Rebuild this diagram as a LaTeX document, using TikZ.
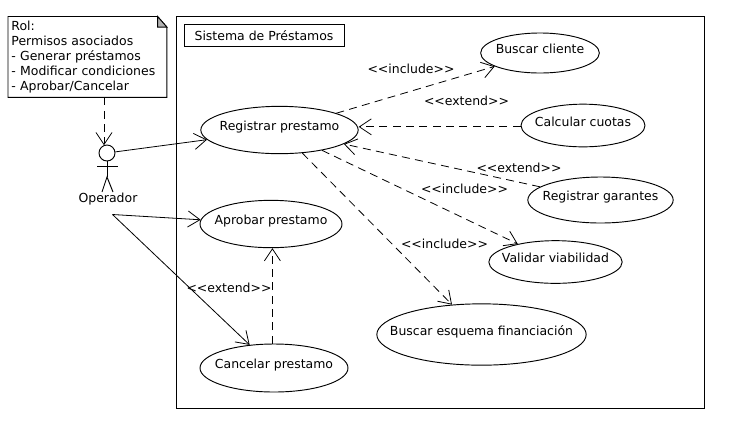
\documentclass[tikz,border=0pt]{standalone}
\usepackage{fontspec}
\setmainfont{DejaVu Sans}
\usetikzlibrary{arrows.meta}
\usetikzlibrary{shapes.geometric}
\tikzset{
  caso/.style={draw,ellipse,inner sep=0pt,text height=7pt,text depth=6pt,font=\fontsize{9.35}{11.25}\selectfont,
    execute at begin node={\hbox to 0pt\bgroup\hss},execute at end node={\hss\egroup}},
  etiqueta/.style={font=\fontsize{9.35}{11.25}\selectfont},
  flecha/.style={-{Straight Barb[length=9pt,width=12pt,line width=.6pt]},line width=.6pt},
  punteada/.style={flecha,dash pattern=on 6pt off 4pt}
}
\begin{document}
\begin{tikzpicture}[x=.75pt,y=-.75pt,line width=.7pt]
  \useasboundingbox (0,0) rectangle (734,430);
  \draw (176.5,16) rectangle (704,408);
  \node[draw,etiqueta,minimum width=120pt,minimum height=17pt,inner sep=0pt] (titulo) at (264,35.5) {Sistema de Préstamos};

  \node[caso,minimum width=118pt,minimum height=35.5pt] (registrar) at (279.5,130) {Registrar prestamo};
  \node[caso,minimum width=89pt,minimum height=30pt] (cliente) at (540,53) {Buscar cliente};
  \node[caso,minimum width=93pt,minimum height=32pt] (cuotas) at (583,125.5) {Calcular cuotas};
  \node[caso,minimum width=109pt,minimum height=34.5pt] (garantes) at (600.5,200) {Registrar garantes};
  \node[caso,minimum width=100pt,minimum height=32pt] (viabilidad) at (555.5,262) {Validar viabilidad};
  \node[caso,minimum width=106.5pt,minimum height=35.5pt] (aprobar) at (271,224) {Aprobar prestamo};
  \node[caso,minimum width=111pt,minimum height=36pt] (cancelar) at (274,368) {Cancelar prestamo};
  \node[caso,minimum width=157pt,minimum height=46pt] (esquema) at (481.5,334.5) {Buscar esquema financiación};

  \node[etiqueta,anchor=north west,minimum width=118.5pt,minimum height=60pt,text width=114pt,inner xsep=2.25pt,inner ysep=1.5pt,align=left] (nota) at (8,16.5)
    {Rol:\\Permisos asociados\\- Generar préstamos\\- Modificar condiciones\\- Aprobar/Cancelar};
  \draw (nota.north west) -- ([xshift=-7pt]nota.north east) -- ([yshift=-8pt]nota.north east) -- (nota.south east) -- (nota.south west) -- cycle;
  \draw[fill=gray!60] ([xshift=-7pt]nota.north east) -- ([xshift=-7pt,yshift=-8pt]nota.north east) -- ([yshift=-8pt]nota.north east) -- cycle;

  \node[draw,circle,minimum size=12pt,inner sep=0pt] (operador) at (107,153) {};
  \coordinate (cuerpo) at (107,177);
  \draw (operador.south) -- (cuerpo);
  \draw (97,166) -- (118,166);
  \draw (102,192) -- (cuerpo) -- (113,192);
  \node[etiqueta] (nombre) at (108,199.5) {Operador};
  \coordinate (salida) at (112.5,214.5);

  \draw[punteada] ([xshift=-2.25pt]nota.south -| operador.north) -- ([xshift=-2.25pt,yshift=-.5pt]operador.north);
  \draw[flecha] (operador) -- (registrar);
  \draw[flecha] (salida) -- (aprobar);
  \draw[flecha] (salida) -- (cancelar);

  \draw[punteada] (registrar) -- (cliente);
  \draw[punteada] ([yshift=-1pt]cuotas.west) -- ([yshift=-1pt]cuotas.west -| registrar.east);
  \draw[punteada] (garantes) -- (registrar);
  \draw[punteada] (registrar) -- (viabilidad);
  \draw[punteada] (registrar) -- (esquema);
  \draw[punteada] ([xshift=-1.2pt]cancelar.north) -- ([xshift=-1.2pt]cancelar.north |- aprobar.south);

  \node[etiqueta] (inc1) at (411,68.5) {<{}<include>{}>};
  \node[etiqueta] (ext1) at (466.5,101) {<{}<extend>{}>};
  \node[etiqueta] (ext2) at (519,167.5) {<{}<extend>{}>};
  \node[etiqueta] (inc2) at (464.5,188.5) {<{}<include>{}>};
  \node[etiqueta] (inc3) at (444.5,243.5) {<{}<include>{}>};
  \node[etiqueta] (ext3) at (229,287.5) {<{}<extend>{}>};
\end{tikzpicture}
\end{document}
